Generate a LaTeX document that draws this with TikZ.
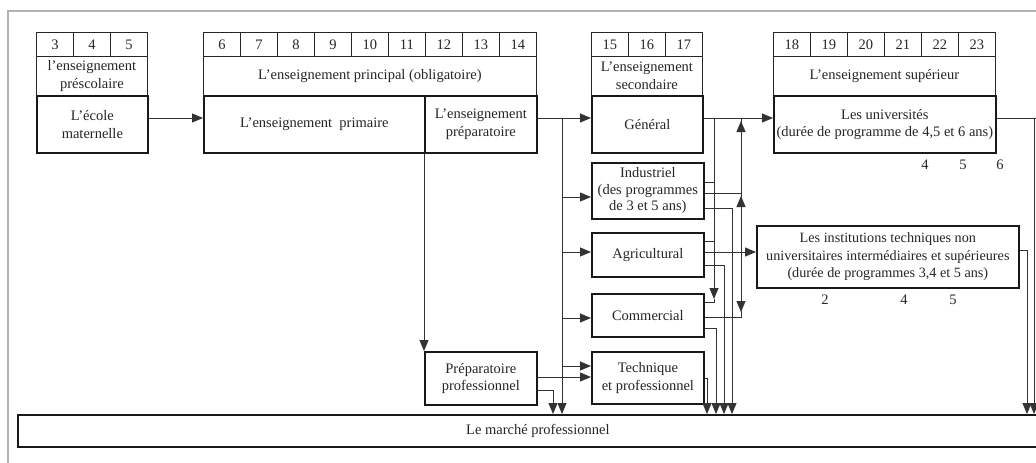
\documentclass[tikz,border=0pt]{standalone}
\usepackage{fontspec}
\setmainfont{Liberation Serif}
\usetikzlibrary{arrows.meta}
\begin{document}
\begin{tikzpicture}[x=1pt,y=-1pt,
  txt/.style={font=\fontsize{14.5}{17.5}\selectfont, text=black!85},
  cellbox/.style={txt, draw=black!85, line width=0.8pt, minimum width=37pt, minimum height=24pt, inner sep=0pt, anchor=north west},
  labelbox/.style={txt, draw=black!85, line width=0.8pt, minimum height=39pt, inner sep=0pt, anchor=north west, align=center},
  mainbox/.style={txt, draw=black!90, line width=1.7pt, minimum height=57pt, inner sep=0pt, anchor=north west, align=center},
  numlab/.style={txt, inner sep=0pt},
  conn/.style={line width=0.9pt, draw=black!80},
  arr/.style={conn, -{Triangle[length=11pt,width=9pt]}},
]
\useasboundingbox (0,0) rectangle (1036,463);
\clip (0,0) rectangle (1036,463);
\fill[white] (0,0) rectangle (1036,463);
% outer frame
\draw[gray!60, line width=1.2pt] (8,463) -- (8,11) -- (1040,11);

% preschool
\foreach \n [count=\i from 0] in {3,4,5} \node[cellbox] (c\n) at ({36+37*\i},32) {\n};
\node[labelbox, minimum width=111pt] (prelab) at (36,56) {l'enseignement\\préscolaire};
\node[mainbox, minimum width=111pt] (mat) at (36,95) {L'école\\maternelle};

% principal
\foreach \n [count=\i from 0] in {6,7,8,9,10,11,12,13,14} \node[cellbox] (c\n) at ({203+37*\i},32) {\n};
\node[labelbox, minimum width=333pt] (prinlab) at (203,56) {L'enseignement principal (obligatoire)};
\node[mainbox, minimum width=221pt] (prim) at (203,95) {L'enseignement \ primaire};
\node[mainbox, minimum width=112pt] (prep) at (424,95) {L'enseignement\\préparatoire};

% secondary
\foreach \n [count=\i from 0] in {15,16,17} \node[cellbox] (c\n) at ({591+37*\i},32) {\n};
\node[labelbox, minimum width=111pt] (seclab) at (591,56) {L'enseignement\\secondaire};
\node[mainbox, minimum width=111pt] (gen) at (591,95) {Général};

% superior
\foreach \n [count=\i from 0] in {18,19,20,21,22,23} \node[cellbox] (c\n) at ({773+37*\i},32) {\n};
\node[labelbox, minimum width=222pt] (suplab) at (773,56) {L'enseignement supérieur};
\node[mainbox, minimum width=222pt] (univ) at (773,95) {Les universités\\(durée de programme de 4,5 et 6 ans)};
\node[numlab] (u4) at (925,165) {4};
\node[numlab] (u5) at (963,165) {5};
\node[numlab] (u6) at (1000,165) {6};

% secondary tracks
\node[mainbox, minimum width=112pt, minimum height=56pt, font=\fontsize{14.5}{16.5}\selectfont] (ind) at (591,162) {Industriel\\(des programmes\\de 3 et 5 ans)};
\node[mainbox, minimum width=112pt, minimum height=44pt] (agr) at (591,232) {Agricultural};
\node[mainbox, minimum width=112pt, minimum height=43pt] (com) at (591,293) {Commercial};
\node[mainbox, minimum width=112pt, minimum height=52pt] (tech) at (591,351) {Technique\\et professionnel};
\node[mainbox, minimum width=112pt, minimum height=53pt] (pprof) at (424,351) {Préparatoire\\professionnel};

% institutions
\node[mainbox, minimum width=262pt, minimum height=62pt, font=\fontsize{14.2}{17.5}\selectfont] (inst) at (756,225) {Les institutions techniques non\\universitaires intermédiaires et supérieures\\(durée de programmes 3,4 et 5 ans)};
\node[numlab] (i2) at (825,300) {2};
\node[numlab] (i4) at (904,300) {4};
\node[numlab] (i5) at (953,300) {5};

% market
\node[mainbox, minimum width=1040pt, minimum height=32pt] (market) at (17,414) {Le marché professionnel};

% level coordinates
\foreach \y in {118,121,182,193,196,197,208,241,250,252,265,299,302,312,317,318,328,366,377,378,390}
  \coordinate (L\y) at (0,\y);
\foreach \x in {553,562,707,714,716,724,732,741,1027,1034}
  \coordinate (X\x) at (\x,0);
\coordinate (offR) at (1045,118);

% main flow
\draw[arr] (mat.east |- L118) -- (prim.west |- L118);
\draw[arr] (prep.east |- L118) -- (gen.west |- L118);
\draw[arr] (gen.east |- L118) -- (univ.west |- L118);
\draw[conn] (univ.east |- L118) -- (offR);
\draw[arr] (X1034 |- L118) -- (X1034 |- market.north);

% trunk from preparatory
\draw[arr] (X562 |- L118) -- (X562 |- market.north);
\draw[arr] (X562 |- L197) -- (ind.west |- L197);
\draw[arr] (X562 |- L252) -- (agr.west |- L252);
\draw[arr] (X562 |- L318) -- (com.west |- L318);
\draw[arr] (X562 |- L366) -- (tech.west |- L366);
\draw[arr] (pprof.east |- L377) -- (tech.west |- L377);
\draw[arr] (pprof.east |- L390) -| (X553 |- market.north);
\draw[arr] (prep.south west) -- (pprof.north west);

% right cluster
\draw[arr] (X714 |- L118) -- (X714 |- L299);
\draw[conn] (X714 |- L299) |- (com.east |- L302);
\draw[conn] (ind.east |- L182) -- (X714 |- L182);
\draw[conn] (agr.east |- L241) -- (X714 |- L241);
\draw[conn] (com.east |- L317) -| (X741 |- L118);
\draw[arr] (X741 |- L317) -- (X741 |- L121);
\draw[arr] (X741 |- L241) -- (X741 |- L196);
\draw[arr] (X741 |- L265) -- (X741 |- L312);
\draw[conn] (ind.east |- L193) -- (X741 |- L193);
\draw[arr] (agr.east |- L252) -- (inst.west |- L252);

% drops to market
\draw[arr] (tech.east |- L378) -| (X707 |- market.north);
\draw[arr] (com.east |- L328) -| (X716 |- market.north);
\draw[arr] (agr.east |- L265) -| (X724 |- market.north);
\draw[arr] (ind.east |- L208) -| (X732 |- market.north);
\draw[arr] (inst.east |- L250) -| (X1027 |- market.north);
\end{tikzpicture}
\end{document}
